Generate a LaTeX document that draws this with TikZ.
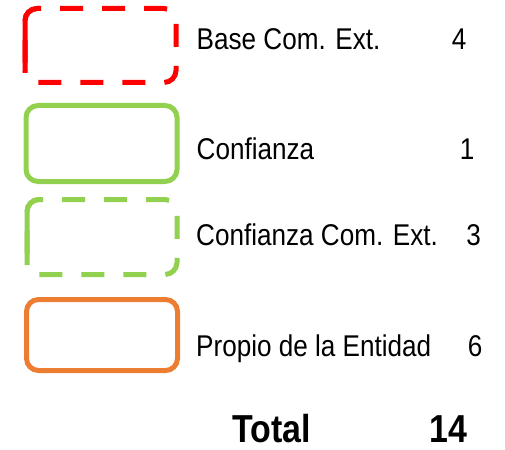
\documentclass[tikz,border=0pt]{standalone}
\usepackage{fontspec}
\setmainfont{Liberation Sans}[FakeStretch=0.87]
\usetikzlibrary{positioning}
\definecolor{pptred}{RGB}{255, 0, 0}
\definecolor{pptgreen}{RGB}{146, 208, 80}
\definecolor{pptorange}{RGB}{237, 125, 49}

\tikzset{
	legendbox/.style={draw, line width=5pt, rounded corners=12pt, inner sep=0pt, outer sep=0pt, minimum width=151pt, minimum height=74pt},
	boxline/.style={line width=5pt, rounded corners=12pt},
	boxdash/.style={boxline, dash pattern=on 23pt off 19pt},
	itemtext/.style={anchor=base west, inner sep=0pt, font=\fontsize{30}{36}\selectfont},
	itemnum/.style={anchor=base, inner sep=0pt, font=\fontsize{30}{36}\selectfont},
	totaltext/.style={anchor=base, inner sep=0pt, font=\fontsize{39}{46}\selectfont\bfseries}
}

\begin{document}
\begin{tikzpicture}[x=1pt, y=-1pt]
	\useasboundingbox (0,0) rectangle (505,449);

	% legend boxes
	\node[legendbox, draw=none] (baseBox) at (100.5,45.5) {};
	\node[legendbox, pptgreen, minimum height=76pt] (confBox) at (101.5,143.5) {};
	\node[legendbox, draw=none, minimum width=150pt, minimum height=75pt] (confExtBox) at (102,237) {};
	\node[legendbox, pptorange, minimum height=71pt] (propioBox) at (102,335) {};

	% dashed borders, long dash on the left side
	\draw[boxdash, pptred, dash phase=34.15pt] (baseBox.south west) -- (baseBox.north west) -- (baseBox.north east) -- (baseBox.south east) -- cycle;
	\draw[boxline, pptred] (25,73) |- (40,8.5);
	\draw[boxdash, pptgreen, dash phase=33.15pt] (confExtBox.south west) -- (confExtBox.north west) -- (confExtBox.north east) -- (confExtBox.south east) -- cycle;
	\draw[boxline, pptgreen] (27,265) |- (42,199.5);

	% texts and counts
	\node[itemtext] (baseText) at (196.5,50) {Base Com. Ext.};
	\node[itemnum] (baseNum) at (459,50) {4};
	\node[itemtext] (confText) at (196.5,160) {Confianza};
	\node[itemnum] (confNum) at (467,160) {1};
	\node[itemtext] (confExtText) at (196,245) {Confianza Com. Ext.};
	\node[itemnum] (confExtNum) at (473.5,245) {3};
	\node[itemtext] (propioText) at (196,356.5) {Propio de la Entidad};
	\node[itemnum] (propioNum) at (475,356.5) {6};

	% total
	\node[totaltext] (totalText) at (272,442) {Total};
	\node[totaltext] (totalNum) at (448.5,442) {14};

\end{tikzpicture}
\end{document}
